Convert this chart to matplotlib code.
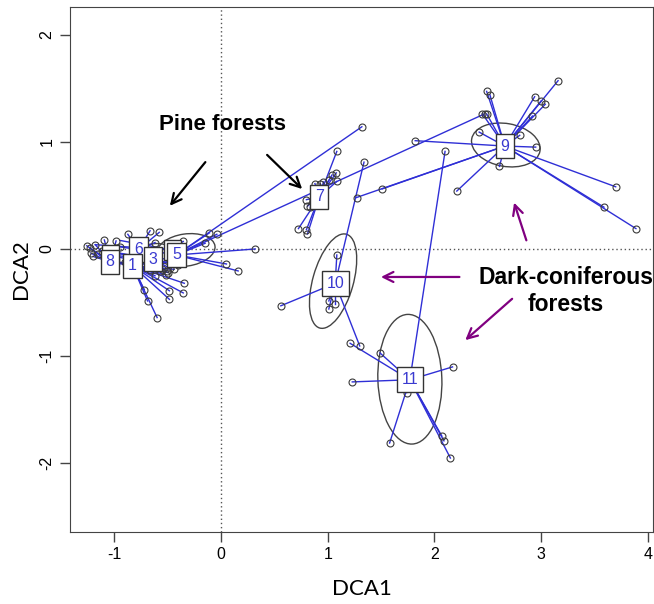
import matplotlib
matplotlib.use("Agg")
import matplotlib.pyplot as plt
from matplotlib.patches import Ellipse, Rectangle

# cluster centroids (DCA1, DCA2) and their labels
group_labels = ["8", "6", "1", "3", "5", "7", "9", "10", "11"]
centroid_x = [-1.04, -0.775, -0.83, -0.64, -0.42, 0.92, 2.66, 1.07, 1.77]
centroid_y = [-0.12, -0.006, -0.157, -0.094, -0.056, 0.485, 0.96, -0.32, -1.22]

# two more centroids whose labels are hidden under 8 and 5
hidden_x = [-1.04, -0.46]
hidden_y = [-0.06, -0.01]

# plots (sites) with the group they belong to
site_group = (["8"] * 12 + ["6"] * 5 + ["1"] * 12 + ["3"] * 7 + ["5"] * 8
              + ["7"] * 14 + ["9"] * 20 + ["10"] * 7 + ["11"] * 10)
site_x = [-1.26, -1.23, -1.22, -1.20, -1.18, -1.095, -0.985, -1.15, -0.55, -0.50, -0.60, -0.45,
          -0.875, -0.666, -0.58, -0.62, -0.95,
          -0.72, -0.69, -0.60, -0.485, -0.485, -0.67, -0.57, -0.355, -0.345, -0.62, -0.52, -0.44,
          -0.51, -0.48, -0.355, -0.90, -1.0, -1.12, -0.40,
          -0.11, -0.04, -0.15, 0.32, 0.05, 0.16, 1.32, 2.47,
          1.085, 1.08, 1.04, 1.01, 1.085, 0.88, 0.93, 0.96, 0.80, 0.81, 0.835, 0.725, 0.80, 0.81,
          3.16, 2.49, 2.52, 2.94, 3.00, 3.04, 2.92, 2.45, 2.49, 2.42, 2.80, 2.95, 2.61, 2.21,
          3.70, 3.59, 3.89, 1.82, 1.51, 1.27,
          1.085, 1.01, 1.07, 1.01, 0.56, 1.30, 1.34,
          1.49, 2.17, 1.23, 1.74, 1.58, 2.07, 2.09, 2.15, 1.21, 2.10]
site_y = [0.03, 0.006, -0.04, -0.07, 0.04, 0.084, 0.075, -0.05, -0.19, -0.22, -0.15, -0.12,
          0.137, 0.17, 0.155, 0.06, 0.02,
          -0.38, -0.485, -0.64, -0.39, -0.47, -0.20, -0.21, -0.41, -0.32, -0.25, -0.24, -0.19,
          -0.21, -0.18, 0.07, -0.12, -0.03, -0.02, -0.15,
          0.15, 0.137, 0.053, 0.0, -0.14, -0.205, 1.14, 1.26,
          0.91, 0.71, 0.69, 0.64, 0.63, 0.61, 0.61, 0.625, 0.46, 0.40, 0.39, 0.19, 0.18, 0.14,
          1.57, 1.47, 1.44, 1.42, 1.38, 1.35, 1.24, 1.26, 1.26, 1.09, 1.06, 0.95, 0.77, 0.54,
          0.58, 0.39, 0.19, 1.01, 0.56, 0.48,
          -0.056, -0.485, -0.51, -0.56, -0.53, -0.905, 0.81,
          -0.97, -1.10, -1.24, -1.34, -1.81, -1.745, -1.79, -1.95, -0.88, 0.91]

# dispersion ellipses: centre x, centre y, width, height, angle
ell_x = [-0.33, -0.62, 2.67, 1.05, 1.77]
ell_y = [-0.01, -0.05, 0.97, -0.30, -1.215]
ell_w = [0.55, 0.35, 0.65, 0.91, 1.21]
ell_h = [0.30, 0.20, 0.40, 0.38, 0.60]
ell_a = [8, 5, -10, 74, 92]

# pixel -> data helper for the annotation layer
def px(x, y):
    return ((x - 221) / 106.6, (249 - y) / 107.2)

fig = plt.figure(figsize=(6.54, 6.04), dpi=100)
ax = fig.add_axes([70 / 654, 72 / 604, 583 / 654, 525 / 604])

ax.axvline(0, color="#555555", ls=(0, (1, 2)), lw=1, zorder=1)
ax.axhline(0, color="#555555", ls=(0, (1, 2)), lw=1, zorder=1)

for cx, cy, w, h, a in zip(ell_x, ell_y, ell_w, ell_h, ell_a):
    ax.add_patch(Ellipse((cx, cy), w, h, angle=a, fill=False, ec="#444444", lw=1, zorder=2))

cent = dict(zip(group_labels, zip(centroid_x, centroid_y)))
for g, x, y in zip(site_group, site_x, site_y):
    cx, cy = cent[g]
    ax.plot([cx, x], [cy, y], color="#2f2fd6", lw=1, zorder=3)
# spokes of the two hidden groups
for hx, hy, tx, ty in [(-1.04, -0.06, -0.4, -0.1), (-1.04, -0.06, -0.55, -0.16),
                       (-0.46, -0.01, -0.95, 0.08), (-0.46, -0.01, -1.18, 0.04)]:
    ax.plot([hx, tx], [hy, ty], color="#2f2fd6", lw=1, zorder=3)
ax.plot(site_x, site_y, "o", mfc="none", mec="#3a3a3a", ms=5, mew=0.8, zorder=4)

for hx, hy in zip(hidden_x, hidden_y):
    ax.add_patch(Rectangle((hx - 0.08, hy - 0.095), 0.16, 0.19, fc="white",
                           ec="#333333", lw=1, zorder=5))

for lab, x, y in zip(group_labels, centroid_x, centroid_y):
    ax.text(x, y, lab, color="#3a3ad0", fontsize=11.5, ha="center", va="center",
            family="Liberation Sans", zorder=6,
            bbox=dict(boxstyle="square,pad=0.3", fc="white", ec="#333333", lw=1))

# annotations
akw = dict(arrowstyle="->", lw=1.6, mutation_scale=18)
ax.annotate("", xy=px(168, 208), xytext=px(207, 160), arrowprops=dict(color="black", **akw), zorder=7)
ax.annotate("", xy=px(304, 191), xytext=px(265, 153), arrowprops=dict(color="black", **akw), zorder=7)
purple = "#800080"
ax.annotate("", xy=px(513, 200), xytext=px(527, 243), arrowprops=dict(color=purple, **akw), zorder=7)
ax.annotate("", xy=px(378, 277), xytext=px(462, 277), arrowprops=dict(color=purple, **akw), zorder=7)
ax.annotate("", xy=px(463, 342), xytext=px(514, 297), arrowprops=dict(color=purple, **akw), zorder=7)

ax.text(*px(222, 125), "Pine forests", fontsize=16, fontweight="bold",
        family="Liberation Sans", ha="center", va="center", zorder=8)
ax.text(*px(566, 291), "Dark-coniferous\nforests", fontsize=16.5, fontweight="bold",
        family="Liberation Sans", ha="center", va="center", linespacing=1.25, zorder=8)

ax.set_xlim(-1.417, 4.05)
ax.set_ylim(-2.64, 2.257)
ax.set_xticks([-1, 0, 1, 2, 3, 4])
ax.set_yticks([-2, -1, 0, 1, 2])
ax.set_xticklabels(["-1", "0", "1", "2", "3", "4"], family="Liberation Sans", fontsize=11.5)
ax.set_yticklabels(["-2", "-1", "0", "1", "2"], family="Liberation Sans", fontsize=11.5,
                   rotation=90, va="center")
ax.tick_params(direction="out", length=7, width=1, color="#444444", pad=4)
for s in ax.spines.values():
    s.set_color("#444444")
ax.set_xlabel("DCA1", fontsize=16, family="Lato", labelpad=12)
ax.set_ylabel("DCA2", fontsize=16, family="Lato", labelpad=6)

fig.savefig("out.png", dpi=100)
